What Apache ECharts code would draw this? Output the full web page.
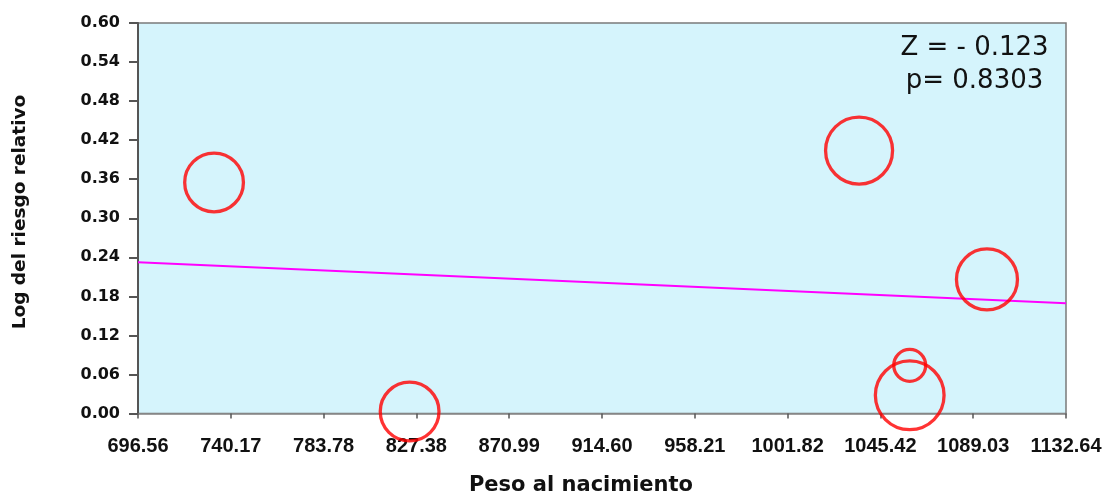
<!DOCTYPE html>
<html>
<head>
<meta charset="utf-8">
<title>Peso al nacimiento vs log del riesgo relativo</title>
<script src="https://cdn.jsdelivr.net/npm/echarts@6/dist/echarts.min.js"></script>
<style>
  html, body { margin: 0; padding: 0; background: #ffffff; }
  #chart { width: 1109px; height: 497px; }
</style>
</head>
<body>
<div id="chart"></div>
<script>
// Birth weight of each study (x) and its log relative risk (y)
const birthWeight = [732.3, 824.2, 1035.4, 1095.5, 1059.2, 1059.2];
const logRR = [0.355, 0.003, 0.404, 0.206, 0.074, 0.028];
// Study weights: bubble area grows with the weight
const studyWeight = [34.5, 34.5, 44.9, 37.2, 10.2, 47.2];

// Fitted meta-regression line, evaluated at the ends of the x range
const fitX = [696.56, 1132.64];
const fitY = [0.2323, 0.1693];

// Axis ticks
const xTickLabels = ['696.56', '740.17', '783.78', '827.38', '870.99', '914.60',
                     '958.21', '1001.82', '1045.42', '1089.03', '1132.64'];
const yMin = 0, yMax = 0.6, yStep = 0.06;

// Test statistics
const statLines = ['Z = - 0.123', 'p= 0.8303'];

const xTicks = xTickLabels.map(Number);
const points = birthWeight.map((x, i) => [x, logRR[i], studyWeight[i]]);
const fitLine = fitX.map((x, i) => [x, fitY[i]]);

const chart = echarts.init(document.getElementById('chart'), null, { renderer: 'canvas' });

chart.setOption({
  animation: false,
  backgroundColor: '#ffffff',
  grid: {
    left: 138, right: 43, top: 23, bottom: 83.5,
    show: true,
    backgroundColor: '#d5f4fc',
    borderColor: '#7a7a7a',
    borderWidth: 1.5
  },
  xAxis: {
    type: 'value',
    min: xTicks[0],
    max: xTicks[xTicks.length - 1],
    splitLine: { show: false },
    axisLine: { show: true, onZero: false, lineStyle: { color: '#8a8a8a', width: 1.5 } },
    axisTick: {
      show: true, length: 5, customValues: xTicks,
      lineStyle: { color: '#555555', width: 1.5 }
    },
    axisLabel: {
      customValues: xTicks,
      margin: 23,
      color: '#111111',
      fontFamily: '"Liberation Sans", Arial, sans-serif',
      fontWeight: 'bold',
      fontSize: 20,
      formatter: v => v.toFixed(2)
    }
  },
  yAxis: {
    type: 'value',
    min: yMin,
    max: yMax,
    interval: yStep,
    splitLine: { show: false },
    axisLine: { show: true, lineStyle: { color: '#555555', width: 2 } },
    axisTick: { show: true, length: 9, lineStyle: { color: '#555555', width: 2 } },
    axisLabel: {
      margin: 18,
      color: '#111111',
      fontFamily: '"DejaVu Sans", sans-serif',
      fontWeight: 'bold',
      fontSize: 16,
      formatter: v => v.toFixed(2)
    }
  },
  series: [
    {
      type: 'line',
      data: fitLine,
      symbol: 'none',
      z: 2,
      lineStyle: { color: '#ff00ff', width: 2 }
    },
    {
      type: 'scatter',
      data: points,
      z: 3,
      clip: false,
      symbol: 'circle',
      symbolSize: d => 10 * Math.sqrt(d[2]),
      itemStyle: { color: 'rgba(0,0,0,0)', borderColor: '#ff0000', borderWidth: 3.3 }
    }
  ],
  graphic: [
    {
      type: 'text',
      x: 20, y: 212,
      rotation: Math.PI / 2,
      style: {
        text: 'Log del riesgo relativo',
        font: 'bold 18.5px "DejaVu Sans", sans-serif',
        fill: '#111111',
        align: 'center',
        verticalAlign: 'middle'
      }
    },
    {
      type: 'text',
      x: 581, y: 486,
      style: {
        text: 'Peso al nacimiento',
        font: 'bold 21px "DejaVu Sans", sans-serif',
        fill: '#111111',
        align: 'center',
        verticalAlign: 'middle'
      }
    },
    {
      type: 'text',
      x: 974.5, y: 48,
      style: {
        text: statLines[0],
        font: '26px "DejaVu Sans", sans-serif',
        fill: '#111111',
        align: 'center',
        verticalAlign: 'middle'
      }
    },
    {
      type: 'text',
      x: 974.5, y: 81.5,
      style: {
        text: statLines[1],
        font: '26px "DejaVu Sans", sans-serif',
        fill: '#111111',
        align: 'center',
        verticalAlign: 'middle'
      }
    }
  ]
});
</script>
</body>
</html>
